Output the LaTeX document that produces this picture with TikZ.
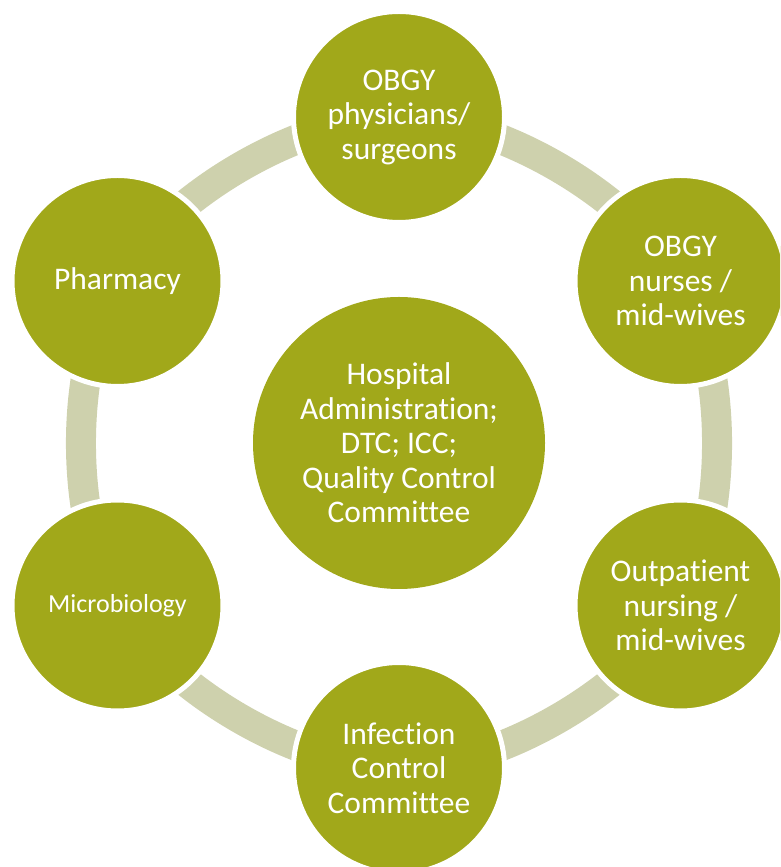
\documentclass[tikz,border=0pt]{standalone}
\usepackage{fontspec}
\setmainfont{Carlito}[Ligatures=NoCommon]
\usepackage{tikz}
\usetikzlibrary{positioning,backgrounds}
\definecolor{unitolive}{RGB}{161,168,26}
\definecolor{ringgrey}{RGB}{206,209,173}

\begin{document}
\begin{tikzpicture}[x=1pt,y=1pt,
  unit/.style={circle,fill=unitolive,draw=white,line width=5pt,minimum size=211pt,
    inner sep=0pt,text=white,align=center,font=\fontsize{31.5}{34.5}\selectfont},
  hubunit/.style={unit,draw=none,minimum size=292pt},
  ring/.style={draw=ringgrey,line width=30pt}]
\path[use as bounding box] (0,0) rectangle (780,867);
\clip (0,0) rectangle (780,867);

% Centre
\node[hubunit] (hub) at (399,424) {Hospital\\Administration;\\DTC; ICC;\\Quality Control\\Committee};

% Ring of units
\node[unit] (obgydoc) at (399,750) {OBGY\\physicians/\\surgeons};
\node[unit] (obgynurse) at (680.5,586) {OBGY\\nurses /\\mid-wives};
\node[unit] (outpat) at (680.5,261.5) {Outpatient\\nursing /\\mid-wives};
\node[unit] (icc) at (399,99) {Infection\\Control\\Committee};
\node[unit,font=\fontsize{26}{30}\selectfont] (micro) at (117.5,261.5) {Microbiology};
\node[unit] (pharm) at (117.5,586) {Pharmacy};

% Cycle behind the units
\begin{scope}[on background layer]
\draw[ring] (obgydoc.center) to[bend left,looseness=0.77] (obgynurse.center);
\draw[ring] (obgynurse.center) to[bend left,looseness=0.77] (outpat.center);
\draw[ring] (outpat.center) to[bend left,looseness=0.77] (icc.center);
\draw[ring] (icc.center) to[bend left,looseness=0.77] (micro.center);
\draw[ring] (micro.center) to[bend left,looseness=0.77] (pharm.center);
\draw[ring] (pharm.center) to[bend left,looseness=0.77] (obgydoc.center);
\end{scope}
\end{tikzpicture}
\end{document}
